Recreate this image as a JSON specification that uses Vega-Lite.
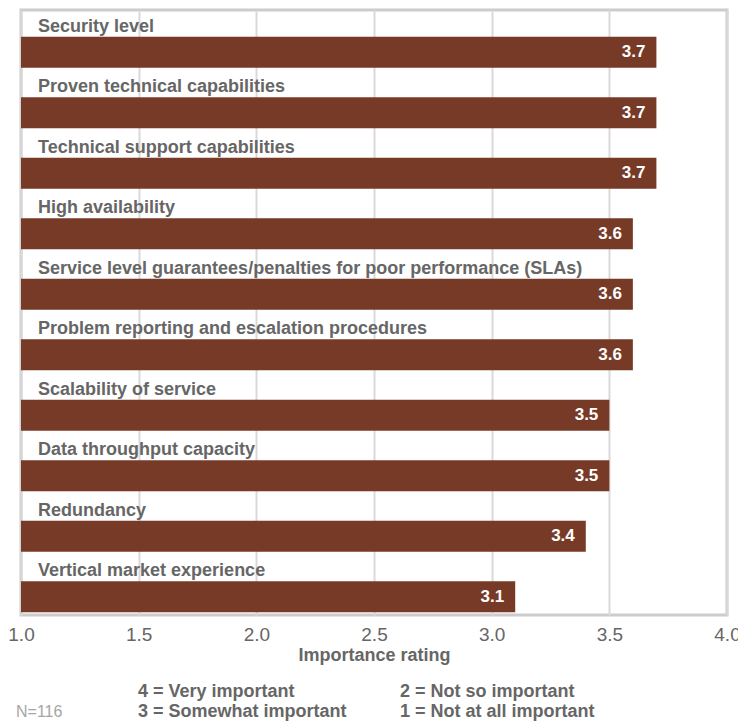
{
  "$schema": "https://vega.github.io/schema/vega-lite/v6.json",
  "padding": {"left": 6, "top": 8, "right": 0, "bottom": 0},
  "background": "white",
  "config": {"font": "Liberation Sans", "view": {"stroke": null}, "concat": {"spacing": 0}},
  "datasets": {
    "ratings": [
      {"factor": "Security level", "rating": 3.7},
      {"factor": "Proven technical capabilities", "rating": 3.7},
      {"factor": "Technical support capabilities", "rating": 3.7},
      {"factor": "High availability", "rating": 3.6},
      {"factor": "Service level guarantees/penalties for poor performance (SLAs)", "rating": 3.6},
      {"factor": "Problem reporting and escalation procedures", "rating": 3.6},
      {"factor": "Scalability of service", "rating": 3.5},
      {"factor": "Data throughput capacity", "rating": 3.5},
      {"factor": "Redundancy", "rating": 3.4},
      {"factor": "Vertical market experience", "rating": 3.1}
    ],
    "notes": [
      {"text": "N=116", "col": 0, "line": 2, "kind": "note"},
      {"text": "4 = Very important", "col": 1, "line": 1, "kind": "key"},
      {"text": "3 = Somewhat important", "col": 1, "line": 2, "kind": "key"},
      {"text": "2 = Not so important", "col": 2, "line": 1, "kind": "key"},
      {"text": "1 = Not at all important", "col": 2, "line": 2, "kind": "key"}
    ]
  },
  "vconcat": [
    {
      "width": 706,
      "height": 605,
      "data": {"name": "ratings"},
      "view": {"stroke": "#cccccc", "strokeWidth": 3},
      "encoding": {
        "y": {"field": "factor", "type": "nominal", "sort": null, "axis": null,
              "scale": {"paddingInner": 0, "paddingOuter": 0}}
      },
      "layer": [
        {
          "mark": {"type": "bar", "color": "#773a26", "height": 31, "yOffset": 12},
          "encoding": {
            "x": {"field": "rating", "type": "quantitative",
                  "scale": {"domain": [1, 4], "nice": false, "zero": false},
                  "axis": {"title": "Importance rating", "values": [1, 1.5, 2, 2.5, 3, 3.5, 4],
                           "format": ".1f", "labelFontSize": 19, "labelColor": "#666666",
                           "labelPadding": 10, "ticks": false, "tickSize": 0, "domain": false,
                           "grid": true, "gridColor": "#d9d9d9", "gridWidth": 2,
                           "labelFlush": false, "labelOverlap": false,
                           "titleFontSize": 18, "titleFontWeight": "bold", "titleColor": "#666666",
                           "titlePadding": 2}},
            "x2": {"datum": 1}
          }
        },
        {
          "mark": {"type": "text", "align": "left", "baseline": "alphabetic", "dx": 17, "dy": -8.5,
                   "fontSize": 18, "fontWeight": "bold", "color": "#666666"},
          "encoding": {
            "x": {"datum": 1, "type": "quantitative"},
            "text": {"field": "factor"}
          }
        },
        {
          "mark": {"type": "text", "align": "right", "baseline": "middle", "dx": -11, "dy": 12,
                   "fontSize": 17, "fontWeight": "bold", "color": "white"},
          "encoding": {
            "x": {"field": "rating", "type": "quantitative"},
            "text": {"field": "rating", "format": ".1f"}
          }
        }
      ]
    },
    {
      "width": 706,
      "height": 52,
      "data": {"name": "notes"},
      "encoding": {
        "x": {"field": "col", "type": "quantitative", "axis": null,
              "scale": {"domain": [0, 1, 2], "range": [-5, 117, 379]}},
        "y": {"field": "line", "type": "quantitative", "axis": null,
              "scale": {"domain": [1, 2], "range": [31, 51], "zero": false, "nice": false}},
        "text": {"field": "text"}
      },
      "layer": [
        {
          "transform": [{"filter": "datum.kind == 'key'"}],
          "mark": {"type": "text", "align": "left", "baseline": "alphabetic",
                   "fontSize": 18, "fontWeight": "bold", "color": "#666666"}
        },
        {
          "transform": [{"filter": "datum.kind == 'note'"}],
          "mark": {"type": "text", "align": "left", "baseline": "alphabetic",
                   "fontSize": 16, "color": "#a6a6a6"}
        }
      ]
    }
  ]
}
